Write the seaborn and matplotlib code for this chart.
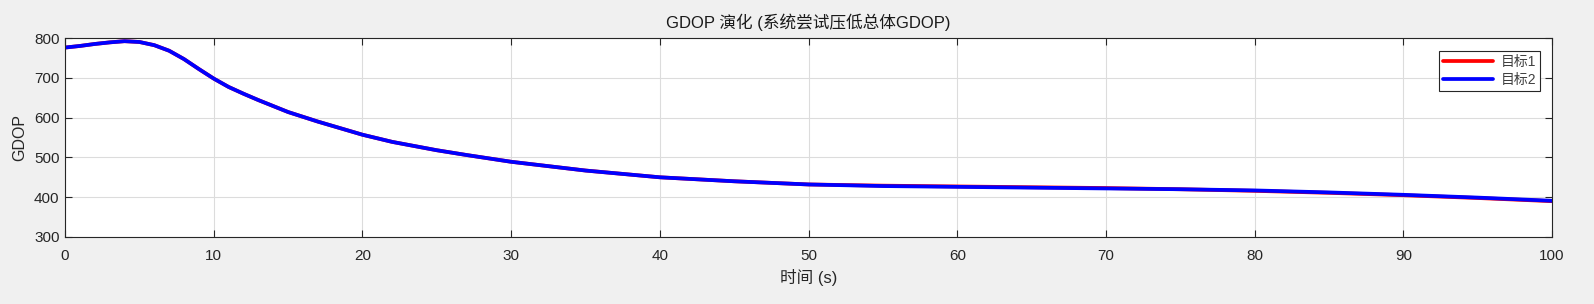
import numpy as np
import pandas as pd
import matplotlib
matplotlib.use('Agg')
import matplotlib.pyplot as plt
import seaborn as sns

# 数据
tiempo = [0, 1, 2, 3, 4, 5, 6, 7, 8, 9, 10, 11, 12, 13, 14, 15, 17, 20, 22, 25,
          27, 30, 35, 40, 45, 50, 55, 60, 65, 70, 75, 80, 85, 90, 95, 100]
gdop_obj2 = [776, 780, 785, 789, 792, 790, 782, 768, 747, 722, 698, 677, 660, 644, 629, 614,
             590, 557, 539, 518, 506, 489, 467, 450, 440, 432, 428, 426, 424, 422, 420, 417,
             412, 406, 399, 391]
gdop_obj1 = [776, 780, 785, 789, 792, 790, 782, 768, 747, 722, 698, 677, 660, 644, 629, 614,
             590, 557, 539, 518, 506, 489, 467, 450, 440, 432, 429, 427, 425, 423, 420, 416,
             411, 405, 398, 390]
etiquetas = ['目标1', '目标2']
colores = ['#ff0000', '#0000ff']

df = pd.DataFrame({
    't': tiempo * 2,
    'gdop': gdop_obj1 + gdop_obj2,
    'serie': [etiquetas[0]] * len(tiempo) + [etiquetas[1]] * len(tiempo),
})

sns.set_theme(style='whitegrid')
plt.rcParams['font.family'] = ['Liberation Sans', 'Noto Sans CJK SC', 'DejaVu Sans']

fig = plt.figure(figsize=(15.94, 3.04), dpi=100, facecolor='#f0f0f0')
ax = fig.add_axes([0.0408, 0.2204, 0.9329, 0.6546])
ax.set_facecolor('white')

sns.lineplot(data=df, x='t', y='gdop', hue='serie', palette=colores, linewidth=2.7, ax=ax)

ax.set_xlim(0, 100)
ax.set_ylim(300, 800)
ax.set_xticks(np.arange(0, 101, 10))
ax.set_yticks(np.arange(300, 801, 100))
ax.grid(True, color='#dcdcdc', linewidth=0.8)
for s in ax.spines.values():
    s.set_color('#262626')
    s.set_linewidth(0.8)
ax.tick_params(direction='in', length=5, width=0.8, colors='#262626', labelsize=11,
               top=True, right=True, bottom=True, left=True, pad=4)
ax.tick_params(axis='x', pad=9)
ax.set_xlabel('时间 (s)', fontsize=12, color='#262626', labelpad=4)
ax.set_ylabel('GDOP', fontsize=11.5, color='#262626', labelpad=5)
ax.set_title('GDOP 演化 (系统尝试压低总体GDOP)', fontsize=12, color='#1a1a1a', pad=7)

leg = ax.legend(loc='upper right', bbox_to_anchor=(0.992, 0.935), fontsize=10,
                frameon=True, fancybox=False, framealpha=1, edgecolor='#262626',
                handlelength=3.6, borderpad=0.3, labelspacing=0.25, handletextpad=0.5,
                borderaxespad=0)
leg.get_frame().set_linewidth(0.8)
for t in leg.get_texts():
    t.set_color('#404040')

fig.savefig('out.png', dpi=100, facecolor=fig.get_facecolor())
